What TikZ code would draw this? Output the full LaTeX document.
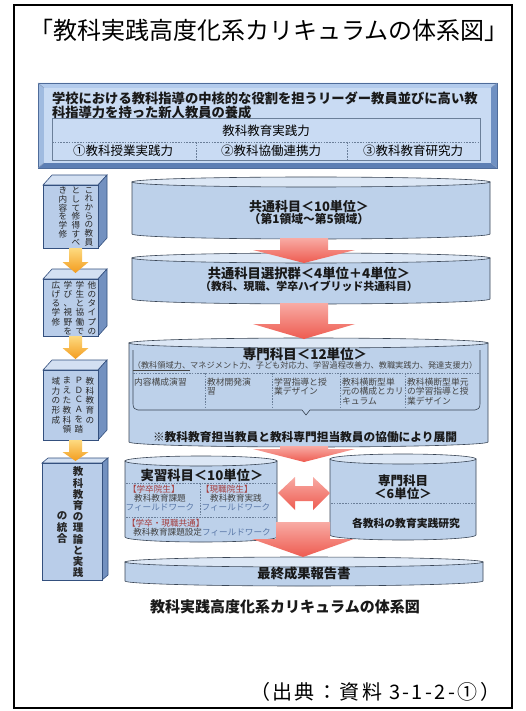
\documentclass[tikz,border=0pt]{standalone}
\usepackage{fontspec}
\setmainfont{Noto Sans CJK JP}
\definecolor{cylfill}{HTML}{BDD1EA}
\definecolor{cyltop}{HTML}{DCE7F5}
\definecolor{cylline}{HTML}{3A4656}
\definecolor{cubfront}{HTML}{B9CDE9}
\definecolor{cubtop}{HTML}{D3E0F2}
\definecolor{cubside}{HTML}{7391C0}
\definecolor{cubline}{HTML}{34507E}
\definecolor{framein}{HTML}{C9DBF3}
\definecolor{frtop}{HTML}{B3CBEC}
\definecolor{frleft}{HTML}{A0BBE0}
\definecolor{frright}{HTML}{6F90C2}
\definecolor{frbot}{HTML}{5D7FB4}
\definecolor{frline}{HTML}{4F6C9A}
\definecolor{redA}{HTML}{F8ABA4}
\definecolor{redB}{HTML}{EE5B50}
\definecolor{orA}{HTML}{FDDA80}
\definecolor{orB}{HTML}{F39C1E}
\definecolor{gtext}{HTML}{444444}
\definecolor{htext}{HTML}{A43C3C}
\definecolor{btext}{HTML}{5A78A8}
\definecolor{tabline}{HTML}{6B7F99}

\newcommand\fs[1]{\fontsize{#1}{#1}\selectfont}
\newdimen\tatew
\def\tatebody#1{\ifx\relax#1\else\hbox to\tatew{\hss#1\hss}\expandafter\tatebody\fi}
\newcommand\tate[2]{\vtop{\tatew=1em\baselineskip=#1\lineskiplimit=-50pt\lineskip=0pt\tatebody#2\relax}}

\newcommand\cyl[5]{%
 \pgfmathsetmacro\cxc{(#1+#2)/2}\pgfmathsetmacro\crx{(#2-#1)/2}%
 \pgfmathsetmacro\cka{0.552*\crx}\pgfmathsetmacro\ckb{0.552*#5}%
 \pgfmathsetmacro\cyb{#4+#5}\pgfmathsetmacro\cyc{#4+\ckb}%
 \filldraw[cylbody] (#1,#3) -- (#1,#4) .. controls (#1,\cyc) and (\cxc-\cka,\cyb) .. (\cxc,\cyb) .. controls (\cxc+\cka,\cyb) and (#2,\cyc) .. (#2,#4) -- (#2,#3) -- cycle;
 \filldraw[cyltopst] (\cxc,#3) ellipse [x radius=\crx pt, y radius=#5 pt];
}
\newcommand\cuboid[6]{%
 \filldraw[cubst, fill=cubtop] (#1,#2) -- (#1+#5,#2-#6) -- (#3+#5,#2-#6) -- (#3,#2) -- cycle;
 \filldraw[cubst, fill=cubside] (#3,#2) -- (#3+#5,#2-#6) -- (#3+#5,#4-#6) -- (#3,#4) -- cycle;
 \filldraw[cubst, fill=cubfront] (#1,#2) rectangle (#3,#4);
}
\newcommand\dnarrow[8]{%
 \shade[top color=#7, bottom color=#8] (#1-#5,#2) -- (#1+#5,#2) -- (#1+#5,#3) -- (#1+#6,#3) -- (#1,#4) -- (#1-#6,#3) -- (#1-#5,#3) -- cycle;
}

\begin{document}
\begin{tikzpicture}[x=1pt,y=-1pt,
  every node/.style={inner sep=0pt, outer sep=0pt},
  cylbody/.style={fill=cylfill, draw=cylline, line width=0.6pt},
  cyltopst/.style={fill=cyltop, draw=cylline, line width=0.6pt},
  cubst/.style={draw=cubline, line width=0.6pt},
  bt/.style={font=\bfseries, text=black!90},
  coltxt/.style={font=\fontsize{8.8}{9.4}\selectfont, text=gtext, align=left, anchor=north west},
  smalltxt/.style={font=\fontsize{8.6}{9.4}\selectfont, text=gtext},
  dsh/.style={draw=tabline, dash pattern=on 1.6pt off 1.2pt, line width=0.6pt},
  tatetxt/.style={font=\fs{8.6}, text=black!85, anchor=north},
]
\useasboundingbox (0,0) rectangle (526,711);
\fill[white] (0,0) rectangle (526,711);
\draw[line width=1.6pt] (14,5) rectangle (512,708);

% title
\node[font=\fs{24}] (title) at (269,30) {「教科実践高度化系カリキュラムの体系図」};

% goal box
\fill[frtop] (38,83) -- (497,83) -- (491,88) -- (44,88) -- cycle;
\fill[frleft] (38,83) -- (44,88) -- (44,163) -- (38,168) -- cycle;
\fill[frright] (497,83) -- (491,88) -- (491,163) -- (497,168) -- cycle;
\fill[frbot] (38,168) -- (44,163) -- (491,163) -- (497,168) -- cycle;
\fill[framein] (44,88) rectangle (491,163);
\draw[frline, line width=0.6pt] (38,83) rectangle (497,168);
\draw[frline!70, line width=0.4pt] (38,83) -- (44,88) (497,83) -- (491,88) (38,168) -- (44,163) (497,168) -- (491,163);
\node[bt, font=\bfseries\fs{13.3}, anchor=west] (goal1) at (52,98) {学校における教科指導の中核的な役割を担うリーダー教員並びに高い教};
\node[bt, font=\bfseries\fs{13.3}, anchor=west] (goal2) at (52,112) {科指導力を持った新人教員の養成};
\draw[tabline, line width=0.6pt] (52,118) rectangle (480,160);
\draw[dsh] (52,142) -- (480,142);
\draw[dsh] (196,142) -- (196,160);
\draw[dsh] (347,142) -- (347,160);
\node[font=\fs{12.5}] (jissen) at (266,131) {教科教育実践力};
\node[font=\fs{12.5}] (ab1) at (123,151) {①教科授業実践力};
\node[font=\fs{12.5}] (ab2) at (271,151) {②教科協働連携力};
\node[font=\fs{12.5}] (ab3) at (413,151) {③教科教育研究力};

% left cuboids
\cuboid{43}{185}{98}{248}{9}{10}
\node[tatetxt] (l1a) at (89,187) {\tate{8.7pt}{これからの教員}};
\node[tatetxt] (l1b) at (76,187) {\tate{8.7pt}{として修得すべ}};
\node[tatetxt] (l1c) at (63,187) {\tate{8.7pt}{き内容を学修}};

\cuboid{43}{279}{98}{336}{9}{10}
\node[tatetxt] (l2a) at (92,281) {\tate{9.2pt}{他のタイプの}};
\node[tatetxt] (l2b) at (80,281) {\tate{9.2pt}{学生と協働で}};
\node[tatetxt] (l2c) at (68,281) {\tate{9.2pt}{学び、視野を}};
\node[tatetxt] (l2d) at (56,281) {\tate{9.2pt}{広げる学修}};

\cuboid{43}{370}{98}{440}{9}{10}
\node[tatetxt] (l3a) at (90,377) {\tate{9.8pt}{教科教育の}};
\node[tatetxt] (l3b) at (79,377) {\tate{9.8pt}{ＰＤＣＡを踏}};
\node[tatetxt] (l3c) at (67,377) {\tate{9.8pt}{まえた教科領}};
\node[tatetxt] (l3d) at (56,377) {\tate{9.8pt}{域力の形成}};

\cuboid{42}{463}{102}{580}{6}{5}
\node[tatetxt, font=\bfseries\fs{10.5}] (l4a) at (78,467) {\tate{11.2pt}{教科教育の理論と実践}};
\node[tatetxt, font=\bfseries\fs{10.5}] (l4b) at (62,512) {\tate{11.2pt}{の統合}};

% orange arrows
\dnarrow{75.5}{248}{262}{273}{6.5}{13}{orA}{orB}
\dnarrow{75.5}{336}{348}{359}{6.5}{13}{orA}{orB}
\dnarrow{75.5}{440}{452}{461}{6.5}{13}{orA}{orB}

% cylinders
\cyl{132}{490}{182}{234}{5}
\node[bt, font=\bfseries\fs{13}] (c1a) at (309,206.5) {共通科目＜10単位＞};
\node[bt, font=\bfseries\fs{11.8}] (c1b) at (309,219) {（第1領域～第5領域）};

\cyl{132}{490}{258}{299}{5}
\node[bt, font=\bfseries\fs{13.3}] (c2a) at (309,273.5) {共通科目選択群＜4単位＋4単位＞};
\node[bt, font=\bfseries\fs{10.9}] (c2b) at (309,285.8) {（教科、現職、学卒ハイブリッド共通科目）};

\cyl{129}{488}{343}{442}{5}
\draw[cylline, line width=0.6pt] (133,350) -- (133,404) .. controls (133,408) and (135,410) .. (138,410) -- (302,410) -- (306,415) -- (310,410) -- (475,410) .. controls (478,410) and (480,408) .. (480,404) -- (480,350);
\node[bt, font=\bfseries\fs{13.5}] (c3a) at (305,354) {専門科目＜12単位＞};
\node[smalltxt, font=\fs{8.2}] (c3b) at (305,366) {\underline{（教科領域力、}マネジメント力、子ども対応力、学習過程改善力、教職実践力、発達支援力）};
\draw[dsh] (133,373) -- (480,373);
\foreach \xx in {205,272,340,405} \draw[dsh] (\xx,373) -- (\xx,409);
\node[coltxt] (k1) at (134,378) {内容構成演習};
\node[coltxt] (k2) at (207,378) {教材開発演\\習};
\node[coltxt] (k3) at (274,378) {学習指導と授\\業デザイン};
\node[coltxt] (k4) at (342,378) {教科横断型単\\元の構成とカリ\\キュラム};
\node[coltxt] (k5) at (407,378) {教科横断型単元\\の学習指導と授\\業デザイン};
\node[bt, font=\bfseries\fs{11.7}] (c3c) at (305,437) {※教科教育担当教員と教科専門担当教員の協働により展開};

\cyl{125}{277}{461}{537}{5}
\node[bt, font=\bfseries\fs{13.3}] (c4a) at (202,475) {実習科目＜10単位＞};
\draw[dsh] (126,483) -- (276,483);
\draw[dsh] (200,483) -- (200,517);
\draw[dsh] (126,517) -- (276,517);
\node[smalltxt, text=htext, anchor=west] (g1) at (128,489) {【学卒院生】};
\node[smalltxt] (g2) at (160,498) {教科教育課題};
\node[smalltxt, text=btext] (g3) at (160,507.5) {フィールドワーク};
\node[smalltxt, text=htext, anchor=west] (g4) at (201,489) {【現職院生】};
\node[smalltxt] (g5) at (236,498) {教科教育実践};
\node[smalltxt, text=btext] (g6) at (236,507.5) {フィールドワーク};
\node[smalltxt, text=htext, anchor=west] (g7) at (127,523) {【学卒・現職共通】};
\node[smalltxt] (g8) at (202,532) {教科教育課題設定\textcolor{btext}{フィールドワーク}};

\cyl{330}{476}{459}{535}{5}
\node[bt, font=\bfseries\fs{12.5}] (c5a) at (403,480.5) {専門科目};
\node[bt, font=\bfseries\fs{12.5}] (c5b) at (403,493.5) {＜6単位＞};
\draw[dsh] (331,503) -- (475,503);
\node[bt, font=\bfseries\fs{10.8}] (c5c) at (406,523) {各教科の教育実践研究};

\cyl{125}{483}{562}{581}{5}
\node[bt, font=\bfseries\fs{13.3}] (fin) at (304,573) {最終成果報告書};

% red arrows
\dnarrow{304}{238}{250}{263}{24}{51}{redA}{redB}
\dnarrow{304}{303}{324}{339}{24}{51}{redA}{redB}
\dnarrow{304}{446}{449}{462}{24}{51}{redA}{redB}
\dnarrow{303}{522}{539}{557}{27}{51}{redA}{redB}
\shade[top color=redA, bottom color=redB] (278,493) -- (295,477) -- (295,486) -- (313,486) -- (313,477) -- (330,493) -- (313,510) -- (313,501) -- (295,501) -- (295,510) -- cycle;

% captions
\node[bt, font=\bfseries\fs{15}] (cap) at (285,607) {教科実践高度化系カリキュラムの体系図};
\node[font=\fs{20}\addfontfeatures{LetterSpace=12}, anchor=east] (src) at (500,692) {（出典：資料 3-1-2-①）};
\end{tikzpicture}
\end{document}
